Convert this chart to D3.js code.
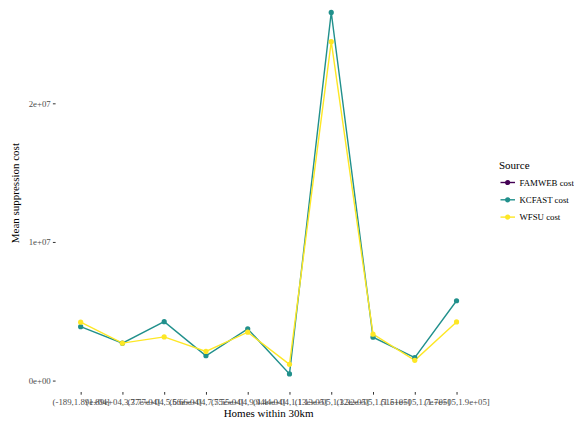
<!DOCTYPE html>
<html><head><meta charset="utf-8">
<script src="https://cdn.jsdelivr.net/npm/d3@7"></script>
<style>body{margin:0;background:#fff}svg{display:block}</style>
</head><body>
<svg id="c" width="574" height="421"></svg>
<script>
const categories = ["(-189,1.89e+04]","(1.89e+04,3.77e+04]","(3.77e+04,5.66e+04]","(5.66e+04,7.55e+04]","(7.55e+04,9.44e+04]","(9.44e+04,1.13e+05]","(1.13e+05,1.32e+05]","(1.32e+05,1.51e+05]","(1.51e+05,1.7e+05]","(1.7e+05,1.9e+05]"];
const seriesNames = ["FAMWEB cost","KCFAST cost","WFSU cost"];
const famweb = [null,null,null,null,null,null,null,null,null,null];
const kcfast = [3.89e6,2.70e6,4.25e6,1.79e6,3.73e6,0.48e6,26.56e6,3.13e6,1.65e6,5.76e6];
const wfsu   = [4.21e6,2.70e6,3.15e6,2.10e6,3.49e6,1.17e6,24.45e6,3.35e6,1.46e6,4.23e6];
const yTicks = [0,1e7,2e7];
const yTickLabels = ["0e+00","1e+07","2e+07"];
const colors = ["#440154","#21908C","#FDE725"];

const series = [famweb,kcfast,wfsu];
const svg = d3.select("#c");
const font = "'Liberation Serif','Times New Roman',serif";
const L = 55.6, R = 481.6, T = -5.7, B = 392;

const x = d3.scalePoint().domain(categories).range([L,R]).padding(0.6);
const all = kcfast.concat(wfsu);
const mn = d3.min(all), mx = d3.max(all), ex = (mx-mn)*0.05;
const y = d3.scaleLinear().domain([mn-ex, mx+ex]).range([B,T]);

// y axis
const ya = svg.append("g").attr("transform",`translate(${L},0)`)
  .call(d3.axisLeft(y).tickValues(yTicks).tickFormat((d,i)=>yTickLabels[i]).tickSize(2.7).tickPadding(2.2));
ya.select(".domain").remove();
ya.selectAll("line").attr("stroke","#333").attr("stroke-width",1);
ya.selectAll("text").attr("fill","#4D4D4D").style("font-family",font).style("font-size","8.8px");

// x axis
const xa = svg.append("g").attr("transform",`translate(0,${B})`)
  .call(d3.axisBottom(x).tickSize(2.7).tickPadding(4.5));
xa.select(".domain").remove();
xa.selectAll("line").attr("stroke","#333").attr("stroke-width",1);
xa.selectAll("text").attr("fill","#4D4D4D").style("font-family",font).style("font-size","8.8px");

// titles
svg.append("text").attr("x",(L+R)/2).attr("y",417).attr("text-anchor","middle")
  .style("font-family",font).style("font-size","11px").text("Homes within 30km");
svg.append("text").attr("transform",`translate(19,${(T+B)/2}) rotate(-90)`).attr("text-anchor","middle")
  .style("font-family",font).style("font-size","11px").text("Mean suppression cost");

// lines and points
const line = d3.line().defined(d=>d.v!=null).x(d=>x(d.c)).y(d=>y(d.v));
const g = svg.append("g");
series.forEach((s,i)=>{
  const data = s.map((v,j)=>({c:categories[j],v}));
  g.append("path").datum(data).attr("d",line).attr("fill","none")
    .attr("stroke",colors[i]).attr("stroke-width",1.4);
});
series.forEach((s,i)=>{
  const data = s.map((v,j)=>({c:categories[j],v})).filter(d=>d.v!=null);
  g.selectAll(null).data(data).enter().append("circle")
    .attr("cx",d=>x(d.c)).attr("cy",d=>y(d.v)).attr("r",2.6).attr("fill",colors[i]);
});

// legend
const lg = svg.append("g");
lg.append("text").attr("x",499).attr("y",169).style("font-family",font).style("font-size","11px").text("Source");
seriesNames.forEach((n,i)=>{
  const cy = 182.5 + i*17.3;
  lg.append("line").attr("x1",500.5).attr("x2",515).attr("y1",cy).attr("y2",cy)
    .attr("stroke",colors[i]).attr("stroke-width",1.4);
  lg.append("circle").attr("cx",507.7).attr("cy",cy).attr("r",2.6).attr("fill",colors[i]);
  lg.append("text").attr("x",519.5).attr("y",cy+3).style("font-family",font).style("font-size","8.8px").text(n);
});
</script>
</body></html>
